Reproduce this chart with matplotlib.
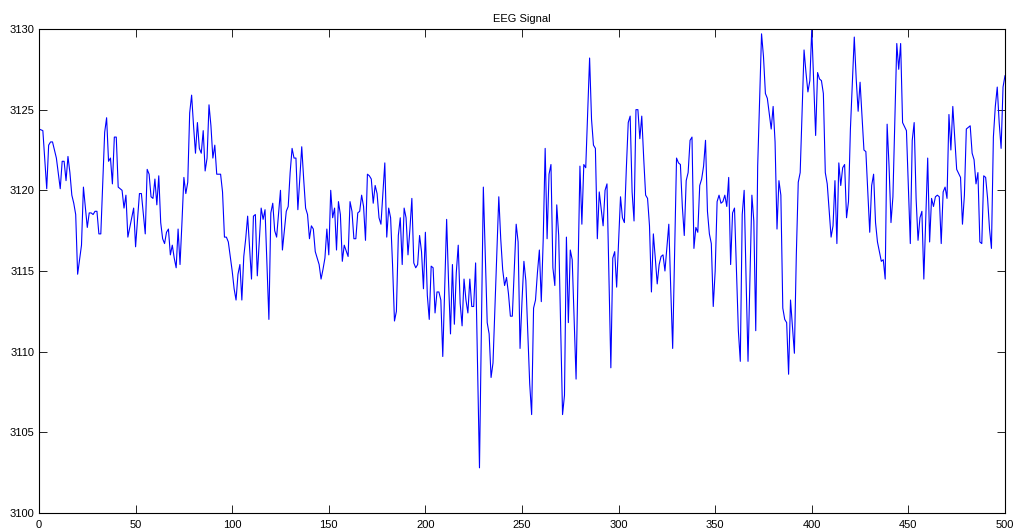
import numpy as np
import matplotlib
matplotlib.use('Agg')
import matplotlib.pyplot as plt

# EEG samples (sample index, amplitude)
sample = [
    0, 2, 4, 5, 6, 7, 9, 11, 12, 13, 14, 15, 16, 17, 18, 19, 20, 22, 23, 25,
    26, 27, 28, 29, 30, 31, 32, 34, 35, 36, 37, 38, 39, 40, 41, 42, 43, 44, 45, 46,
    48, 49, 50, 51, 52, 53, 55, 56, 57, 58, 59, 60, 61, 62, 63, 64, 65, 66, 67, 68,
    69, 70, 71, 72, 73, 74, 75, 76, 77, 78, 79, 80, 81, 82, 83, 84, 85, 86, 87, 88,
    89, 90, 91, 92, 93, 94, 95, 96, 97, 98, 100, 101, 102, 103, 104, 105, 106, 107, 108, 110,
    111, 112, 113, 115, 116, 117, 119, 120, 121, 122, 123, 125, 126, 128, 129, 130, 131, 132, 133, 134,
    136, 137, 138, 139, 140, 141, 142, 143, 145, 146, 147, 148, 149, 150, 151, 152, 153, 154, 155, 156,
    157, 158, 160, 161, 162, 163, 164, 165, 166, 167, 168, 169, 170, 171, 172, 173, 174, 175, 176, 177,
    179, 180, 181, 182, 183, 184, 185, 186, 187, 188, 189, 190, 191, 192, 193, 194, 195, 196, 197, 198,
    199, 200, 201, 202, 203, 204, 205, 206, 207, 208, 209, 211, 212, 213, 214, 215, 216, 217, 218, 219,
    220, 221, 222, 223, 224, 225, 226, 228, 230, 232, 233, 234, 235, 238, 239, 240, 241, 242, 243, 244,
    245, 247, 248, 249, 250, 251, 252, 254, 255, 256, 257, 258, 259, 260, 261, 262, 263, 264, 265, 266,
    267, 268, 269, 271, 272, 273, 274, 275, 276, 278, 280, 281, 282, 283, 284, 285, 286, 287, 288, 289,
    290, 292, 293, 294, 296, 297, 298, 299, 301, 302, 303, 304, 305, 306, 307, 308, 309, 310, 311, 312,
    313, 314, 315, 316, 317, 318, 319, 320, 321, 322, 323, 324, 326, 327, 328, 330, 331, 332, 333, 334,
    335, 336, 337, 338, 339, 340, 341, 342, 343, 344, 345, 346, 347, 348, 349, 350, 351, 352, 353, 354,
    355, 356, 357, 358, 359, 360, 362, 363, 364, 365, 366, 367, 369, 370, 371, 372, 374, 375, 376, 377,
    379, 380, 381, 382, 383, 384, 385, 386, 387, 388, 389, 391, 392, 393, 394, 396, 397, 398, 399, 400,
    402, 403, 404, 405, 406, 407, 408, 410, 411, 412, 413, 414, 415, 416, 417, 418, 419, 420, 422, 423,
    424, 425, 426, 427, 428, 429, 430, 431, 432, 433, 434, 436, 437, 438, 439, 440, 441, 442, 444, 445,
    446, 447, 449, 451, 452, 453, 454, 455, 456, 457, 458, 460, 461, 462, 463, 464, 465, 466, 467, 468,
    469, 470, 471, 472, 473, 474, 475, 477, 478, 479, 480, 482, 483, 484, 485, 486, 487, 488, 489, 490,
    491, 492, 493, 494, 495, 496, 497, 498, 499, 500,
]
amplitude = [
    3123.8, 3123.7, 3120.1, 3122.8, 3123.0, 3123.0, 3122.0, 3120.1, 3121.8, 3121.8,
    3120.6, 3122.1, 3121.1, 3119.7, 3119.2, 3118.5, 3114.8, 3116.6, 3120.2, 3117.7,
    3118.6, 3118.6, 3118.5, 3118.7, 3118.7, 3117.3, 3117.3, 3123.6, 3124.5, 3121.8,
    3122.0, 3120.4, 3123.3, 3123.3, 3120.2, 3120.1, 3120.0, 3118.9, 3119.7, 3117.1,
    3118.3, 3118.9, 3116.5, 3118.2, 3119.8, 3119.8, 3117.3, 3121.3, 3121.0, 3119.6,
    3119.5, 3120.7, 3119.1, 3120.9, 3118.0, 3117.0, 3116.7, 3117.4, 3117.6, 3116.0,
    3116.6, 3115.8, 3115.2, 3117.6, 3115.4, 3118.0, 3120.8, 3119.8, 3120.5, 3124.8,
    3125.9, 3124.0, 3122.3, 3124.2, 3122.6, 3122.3, 3123.7, 3121.2, 3122.0, 3125.3,
    3124.0, 3122.0, 3122.8, 3121.0, 3121.0, 3121.0, 3119.9, 3117.1, 3117.1, 3116.8,
    3115.0, 3113.9, 3113.2, 3114.8, 3115.4, 3113.2, 3115.9, 3117.0, 3118.4, 3114.5,
    3118.4, 3118.5, 3114.7, 3118.9, 3118.2, 3118.8, 3112.0, 3118.6, 3119.2, 3117.5,
    3117.1, 3120.0, 3116.3, 3118.7, 3119.0, 3121.1, 3122.6, 3122.0, 3122.0, 3118.8,
    3122.7, 3120.7, 3118.9, 3118.5, 3117.0, 3117.8, 3117.6, 3116.2, 3115.4, 3114.5,
    3115.1, 3115.8, 3117.6, 3116.0, 3120.0, 3118.3, 3118.9, 3116.3, 3119.3, 3118.5,
    3115.6, 3116.6, 3115.9, 3119.3, 3118.7, 3117.0, 3117.0, 3118.6, 3118.7, 3119.7,
    3119.0, 3116.9, 3121.0, 3120.9, 3120.7, 3119.2, 3120.3, 3119.8, 3118.3, 3117.9,
    3121.7, 3117.1, 3118.9, 3118.3, 3115.4, 3111.9, 3112.5, 3117.2, 3118.3, 3115.4,
    3118.9, 3118.3, 3116.0, 3117.6, 3119.5, 3115.5, 3115.2, 3115.4, 3117.2, 3116.2,
    3113.9, 3117.4, 3113.5, 3112.0, 3115.3, 3115.2, 3112.4, 3113.7, 3113.7, 3113.2,
    3109.7, 3118.2, 3114.3, 3111.1, 3115.4, 3111.7, 3114.9, 3116.6, 3113.0, 3111.6,
    3114.5, 3113.2, 3112.4, 3114.5, 3112.8, 3112.8, 3115.5, 3102.8, 3120.2, 3111.8,
    3111.1, 3108.4, 3109.3, 3119.6, 3117.0, 3115.1, 3114.1, 3114.6, 3113.6, 3112.2,
    3112.2, 3117.9, 3116.8, 3110.2, 3113.1, 3115.6, 3114.4, 3108.0, 3106.1, 3112.7,
    3113.2, 3114.9, 3116.3, 3113.1, 3117.0, 3122.6, 3117.0, 3121.0, 3121.6, 3115.2,
    3114.1, 3119.1, 3117.2, 3106.1, 3107.3, 3117.1, 3111.8, 3116.3, 3115.7, 3108.3,
    3121.5, 3117.9, 3121.6, 3121.4, 3124.8, 3128.2, 3124.4, 3122.8, 3122.6, 3117.0,
    3119.9, 3117.8, 3120.0, 3120.4, 3109.0, 3115.8, 3116.2, 3114.0, 3119.6, 3118.3,
    3118.0, 3121.3, 3124.2, 3124.6, 3119.9, 3118.1, 3125.0, 3125.0, 3123.2, 3124.6,
    3122.0, 3119.7, 3119.5, 3117.8, 3113.7, 3117.3, 3115.8, 3114.2, 3115.4, 3115.9,
    3116.0, 3115.0, 3117.9, 3113.9, 3110.2, 3122.0, 3121.7, 3121.6, 3119.0, 3117.2,
    3120.6, 3121.1, 3123.1, 3123.3, 3116.4, 3117.7, 3117.4, 3120.3, 3120.7, 3121.5,
    3123.1, 3118.7, 3117.3, 3116.7, 3112.8, 3115.0, 3119.3, 3119.7, 3119.2, 3119.3,
    3119.7, 3119.0, 3120.8, 3115.4, 3118.6, 3118.9, 3111.3, 3109.4, 3118.5, 3120.0,
    3114.5, 3109.4, 3119.7, 3118.1, 3111.3, 3121.5, 3129.7, 3128.3, 3126.0, 3125.7,
    3123.8, 3125.2, 3123.0, 3117.6, 3120.6, 3119.7, 3112.7, 3112.0, 3111.8, 3108.6,
    3113.2, 3109.9, 3116.0, 3120.5, 3121.1, 3128.7, 3127.3, 3126.1, 3126.8, 3130.0,
    3123.4, 3127.3, 3126.9, 3126.8, 3126.0, 3121.1, 3120.4, 3117.1, 3117.8, 3120.6,
    3116.7, 3121.7, 3120.3, 3121.4, 3121.6, 3118.3, 3119.3, 3123.8, 3129.5, 3126.9,
    3124.9, 3126.7, 3124.6, 3122.5, 3122.4, 3119.9, 3117.4, 3120.3, 3121.0, 3118.0,
    3116.8, 3115.6, 3115.7, 3114.5, 3124.1, 3121.5, 3118.0, 3119.6, 3129.1, 3127.5,
    3129.1, 3124.2, 3123.7, 3116.7, 3123.1, 3124.2, 3119.5, 3116.9, 3118.3, 3118.7,
    3114.5, 3122.0, 3116.8, 3119.5, 3119.0, 3119.6, 3119.7, 3119.6, 3116.7, 3119.9,
    3120.2, 3119.5, 3124.7, 3122.5, 3125.2, 3123.2, 3121.3, 3120.8, 3117.9, 3119.7,
    3123.8, 3124.0, 3122.3, 3121.9, 3120.4, 3121.1, 3116.8, 3116.7, 3120.9, 3120.8,
    3119.5, 3117.6, 3116.4, 3123.3, 3125.2, 3126.4, 3124.2, 3122.6, 3126.4, 3127.1,
]

plt.rcParams['font.family'] = ['Liberation Sans', 'DejaVu Sans']

fig = plt.figure(figsize=(10.18, 5.31), dpi=100)
ax = fig.add_axes([0.0383, 0.0339, 0.9489, 0.9115])
ax.plot(sample, amplitude, color=(0, 0, 1), linewidth=0.8)
ax.set_xlim(0, 500)
ax.set_ylim(3100, 3130)
ax.set_xticks(np.arange(0, 501, 50))
ax.set_yticks(np.arange(3100, 3131, 5))
ax.tick_params(direction='in', length=6, width=0.6, labelsize=8,
               top=True, right=True)
ax.tick_params(axis='y', pad=3.5)
ax.tick_params(axis='x', pad=5)
for s in ax.spines.values():
    s.set_linewidth(0.8)
ax.set_title('EEG Signal', fontsize=8, pad=5)

fig.savefig('out.png', dpi=100)
